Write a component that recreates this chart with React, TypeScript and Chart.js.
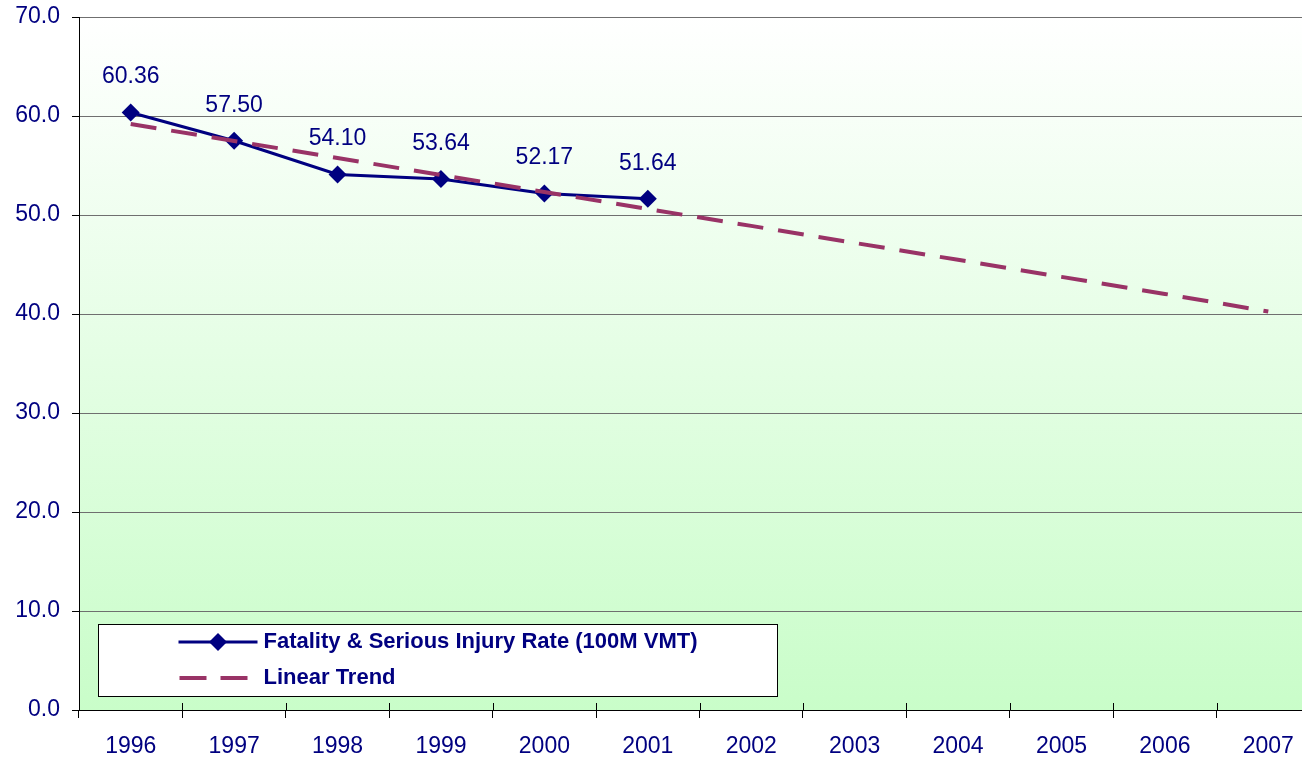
import React, { useEffect, useRef } from "react";
import { Chart, registerables } from "chart.js";

Chart.register(...registerables);

const years = ["1996", "1997", "1998", "1999", "2000", "2001", "2002", "2003", "2004", "2005", "2006", "2007"];
const rateValues = [60.36, 57.5, 54.1, 53.64, 52.17, 51.64];
const trendValues = [59.19, 57.48, 55.76, 54.04, 52.33, 50.61, 48.9, 47.18, 45.47, 43.75, 42.03, 40.25];
const seriesNames = ["Fatality & Serious Injury Rate (100M VMT)", "Linear Trend"];
const yMin = 0;
const yMax = 70;
const yStep = 10;

const NAVY = "#000080";
const PLUM = "#993366";
const FONT = "'Liberation Sans', Arial, sans-serif";

const backgroundPlugin = {
  id: "plotBackground",
  beforeDraw(chart: any) {
    const { ctx, chartArea } = chart;
    if (!chartArea) return;
    ctx.save();
    ctx.fillStyle = "#ffffff";
    ctx.fillRect(0, 0, chart.width, chart.height);
    const g = ctx.createLinearGradient(0, chartArea.top, 0, chartArea.bottom);
    g.addColorStop(0, "#ffffff");
    g.addColorStop(1, "#c9fdc9");
    ctx.fillStyle = g;
    ctx.fillRect(chartArea.left, chartArea.top, chartArea.right - chartArea.left, chartArea.bottom - chartArea.top);
    ctx.restore();
  },
};

const labelPlugin = {
  id: "valueLabels",
  afterDatasetsDraw(chart: any) {
    const { ctx } = chart;
    const meta = chart.getDatasetMeta(0);
    ctx.save();
    ctx.font = `23px ${FONT}`;
    ctx.fillStyle = NAVY;
    ctx.textAlign = "center";
    ctx.textBaseline = "middle";
    meta.data.forEach((pt: any, i: number) => {
      const v = rateValues[i];
      if (v == null) return;
      ctx.fillText(v.toFixed(2), pt.x, pt.y - 35.5);
    });
    ctx.restore();
  },
};

const crossTickPlugin = {
  id: "crossTicks",
  afterDraw(chart: any) {
    const { ctx, chartArea } = chart;
    const xs = chart.scales.x;
    ctx.save();
    ctx.strokeStyle = "#000000";
    ctx.lineWidth = 1;
    ctx.beginPath();
    for (let i = 1; i < years.length; i++) {
      const px = Math.round((xs.getPixelForTick(i - 1) + xs.getPixelForTick(i)) / 2) + 0.5;
      ctx.moveTo(px, chartArea.bottom - 7);
      ctx.lineTo(px, chartArea.bottom);
    }
    ctx.stroke();
    ctx.restore();
  },
};

const legendPlugin = {
  id: "boxLegend",
  afterDraw(chart: any) {
    const { ctx, chartArea } = chart;
    const bx = chartArea.left + 19.5;
    const by = chartArea.bottom - 85.5;
    const bw = 679;
    const bh = 72;
    ctx.save();
    ctx.fillStyle = "#ffffff";
    ctx.fillRect(bx, by, bw, bh);
    ctx.strokeStyle = "#000000";
    ctx.lineWidth = 1;
    ctx.strokeRect(bx, by, bw, bh);

    const lx0 = bx + 80;
    const lx1 = bx + 159;
    const y1 = by + 17.5;
    const y2 = by + 53.5;

    ctx.strokeStyle = NAVY;
    ctx.lineWidth = 3;
    ctx.beginPath();
    ctx.moveTo(lx0, y1);
    ctx.lineTo(lx1, y1);
    ctx.stroke();
    const cx = (lx0 + lx1) / 2;
    const r = 9;
    ctx.fillStyle = NAVY;
    ctx.beginPath();
    ctx.moveTo(cx - r, y1);
    ctx.lineTo(cx, y1 - r);
    ctx.lineTo(cx + r, y1);
    ctx.lineTo(cx, y1 + r);
    ctx.closePath();
    ctx.fill();

    ctx.strokeStyle = PLUM;
    ctx.lineWidth = 4;
    ctx.setLineDash([27, 14]);
    ctx.beginPath();
    ctx.moveTo(lx0 + 1, y2);
    ctx.lineTo(lx0 + 69, y2);
    ctx.stroke();
    ctx.setLineDash([]);

    ctx.fillStyle = NAVY;
    ctx.font = `bold 22px ${FONT}`;
    ctx.textAlign = "left";
    ctx.textBaseline = "middle";
    ctx.fillText(seriesNames[0], bx + 165, y1);
    ctx.fillText(seriesNames[1], bx + 165, y2);
    ctx.restore();
  },
};

export default function App() {
  const canvasRef = useRef<HTMLCanvasElement | null>(null);

  useEffect(() => {
    if (!canvasRef.current) return;
    const chart = new Chart(canvasRef.current, {
      type: "line",
      data: {
        labels: years,
        datasets: [
          {
            label: seriesNames[0],
            data: rateValues,
            borderColor: NAVY,
            backgroundColor: NAVY,
            borderWidth: 3,
            pointStyle: "rectRot",
            pointRadius: 9,
            pointBackgroundColor: NAVY,
            pointBorderColor: NAVY,
            pointBorderWidth: 0,
            tension: 0,
            order: 1,
          },
          {
            label: seriesNames[1],
            data: trendValues,
            borderColor: PLUM,
            backgroundColor: PLUM,
            borderWidth: 4,
            borderDash: [26, 15],
            borderCapStyle: "butt",
            pointRadius: 0,
            tension: 0,
            order: 0,
          },
        ],
      },
      options: {
        animation: false,
        responsive: false,
        maintainAspectRatio: false,
        layout: { padding: { top: 17, left: 0, right: 10, bottom: 0 } },
        plugins: {
          legend: { display: false },
          tooltip: { enabled: false },
          title: { display: false },
        },
        scales: {
          x: {
            type: "category",
            offset: true,
            border: { display: true, color: "#000000", width: 1 },
            grid: {
              offset: true,
              drawOnChartArea: false,
              drawTicks: true,
              tickLength: 8,
              color: "#000000",
            },
            ticks: {
              color: NAVY,
              font: { family: FONT, size: 23 },
              padding: 15,
              maxRotation: 0,
              autoSkip: false,
            },
            afterFit(scale: any) {
              scale.height = 48;
              scale.paddingLeft = 0;
              scale.paddingRight = 0;
            },
          },
          y: {
            min: yMin,
            max: yMax,
            border: { display: true, color: "#000000", width: 1 },
            grid: {
              color: "#6f6f6f",
              lineWidth: 1,
              drawTicks: true,
              tickLength: 7,
              tickColor: "#000000",
            },
            ticks: {
              stepSize: yStep,
              color: NAVY,
              font: { family: FONT, size: 23 },
              padding: 12,
              callback: (v: any) => Number(v).toFixed(1),
            },
            afterFit(scale: any) {
              scale.width = 79;
              scale.paddingTop = 0;
              scale.paddingBottom = 0;
            },
          },
        },
      },
      plugins: [backgroundPlugin, labelPlugin, crossTickPlugin, legendPlugin],
    });
    return () => chart.destroy();
  }, []);

  return (
    <div
      style={{
        position: "fixed",
        left: 0,
        top: 0,
        width: 1302,
        height: 758,
        overflow: "hidden",
        background: "#ffffff",
      }}
    >
      <canvas
        ref={canvasRef}
        width={1330}
        height={758}
        style={{ display: "block", width: 1330, height: 758 }}
      />
    </div>
  );
}
